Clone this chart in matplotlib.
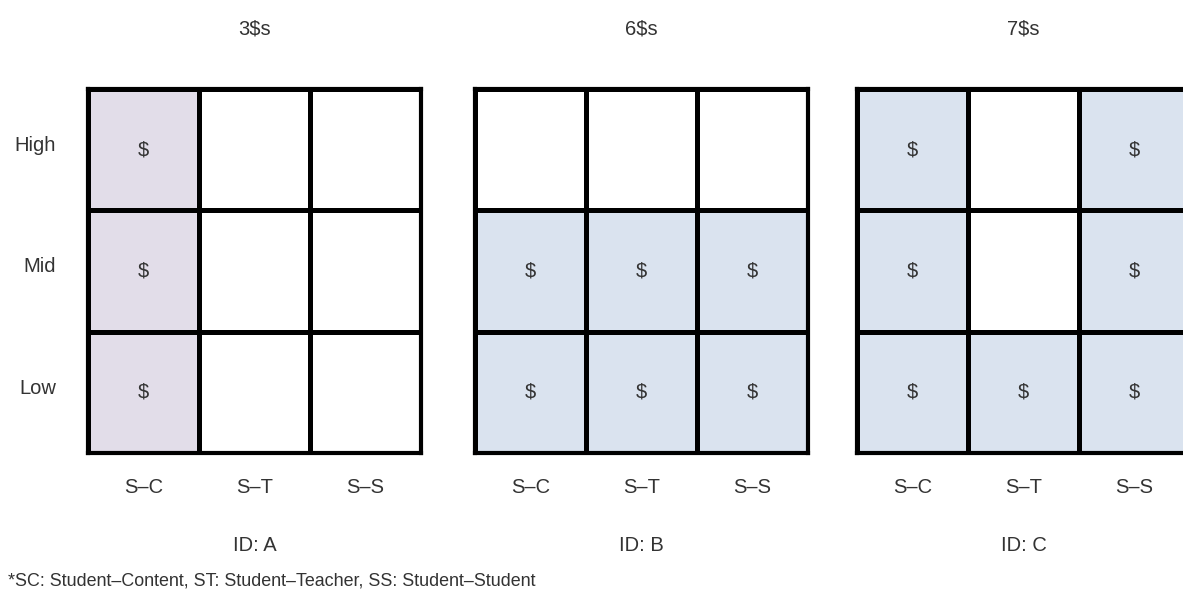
import matplotlib
matplotlib.use("Agg")
import matplotlib.pyplot as plt
from matplotlib.colors import ListedColormap
import numpy as np

plt.rcParams['font.family'] = ['Liberation Sans', 'DejaVu Sans']

panel_titles = ["3$s", "6$s", "7$s"]
panel_ids = ["ID: A", "ID: B", "ID: C"]
row_labels = ["High", "Mid", "Low"]
col_labels = ["S\u2013C", "S\u2013T", "S\u2013S"]
# 1 = cell marked with "$" (rows: High, Mid, Low; cols: S-C, S-T, S-S)
marks_A = [[1, 0, 0], [1, 0, 0], [1, 0, 0]]
marks_B = [[0, 0, 0], [1, 1, 1], [1, 1, 1]]
marks_C = [[1, 0, 1], [1, 0, 1], [1, 1, 1]]
fill_colors = ["#e2dde9", "#dae3ef", "#dae3ef"]
footnote = "*SC: Student\u2013Content, ST: Student\u2013Teacher, SS: Student\u2013Student"

W, H = 1183, 596
fig = plt.figure(figsize=(W / 100, H / 100), dpi=100)

panel_left_px = [88, 475, 857]
grid_w_px, grid_top_px, grid_bot_px = 333, 89, 453
text_color = "#333333"
fs = 14.5

for k, marks in enumerate([marks_A, marks_B, marks_C]):
    x0 = panel_left_px[k]
    ax = fig.add_axes([x0 / W, 1 - grid_bot_px / H, grid_w_px / W, (grid_bot_px - grid_top_px) / H])
    m = np.array(marks)
    cmap = ListedColormap(["white", fill_colors[k]])
    ax.pcolormesh(np.arange(4), np.arange(4), m, cmap=cmap, vmin=0, vmax=1,
                  edgecolors="black", linewidth=2.4)
    ax.set_xlim(0, 3)
    ax.set_ylim(3, 0)
    for r in range(3):
        for c in range(3):
            if m[r, c]:
                ax.text(c + 0.5, r + 0.5, "$", ha="center", va="center",
                        fontsize=fs, color=text_color)
    ax.set_xticks(np.arange(3) + 0.5)
    ax.set_xticklabels(col_labels, fontsize=fs, color=text_color)
    ax.tick_params(axis="x", length=0, pad=18)
    if k == 0:
        ax.set_yticks(np.arange(3) + 0.45)
        ax.set_yticklabels(row_labels, fontsize=fs, color=text_color)
        ax.tick_params(axis="y", length=0, pad=23)
    else:
        ax.set_yticks([])
    for s in ax.spines.values():
        s.set_linewidth(3)
        s.set_color("black")
    ax.set_title(panel_titles[k], fontsize=fs, color=text_color, pad=39)
    ax.text(1.5, 3.76, panel_ids[k], ha="center", va="center",
            fontsize=fs, color=text_color, transform=ax.transData, clip_on=False)

fig.text(8 / W, 1 - 581 / H, footnote, ha="left", va="center", fontsize=12.9, color=text_color)

fig.savefig("out.png", dpi=100)
